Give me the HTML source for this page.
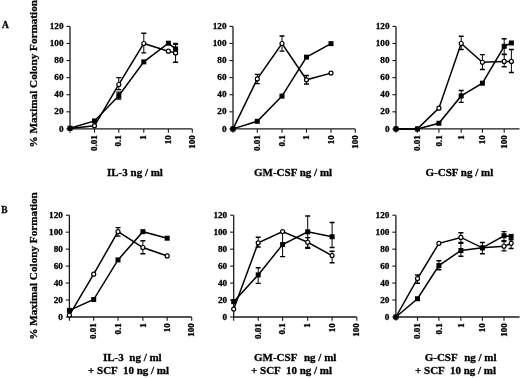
<!DOCTYPE html><html><head><meta charset="utf-8"><style>html,body{margin:0;padding:0;background:#fff;}svg{display:block;filter:grayscale(1) blur(0.25px)}text{font-family:"Liberation Serif", serif;font-weight:bold;fill:#000;stroke:#000;stroke-width:0.3px}</style></head><body>
<svg width="520" height="378" viewBox="0 0 520 378">
<line x1="70" y1="26.40" x2="70" y2="129.50" stroke="#1a1a1a" stroke-width="1.3"/>
<line x1="66.40" y1="128.90" x2="70" y2="128.90" stroke="#1a1a1a" stroke-width="1.1"/>
<text x="63.50" y="131.50" font-size="9.2" text-anchor="end">0</text>
<line x1="66.40" y1="111.82" x2="70" y2="111.82" stroke="#1a1a1a" stroke-width="1.1"/>
<text x="63.50" y="114.42" font-size="9.2" text-anchor="end">20</text>
<line x1="66.40" y1="94.73" x2="70" y2="94.73" stroke="#1a1a1a" stroke-width="1.1"/>
<text x="63.50" y="97.33" font-size="9.2" text-anchor="end">40</text>
<line x1="66.40" y1="77.65" x2="70" y2="77.65" stroke="#1a1a1a" stroke-width="1.1"/>
<text x="63.50" y="80.25" font-size="9.2" text-anchor="end">60</text>
<line x1="66.40" y1="60.56" x2="70" y2="60.56" stroke="#1a1a1a" stroke-width="1.1"/>
<text x="63.50" y="63.16" font-size="9.2" text-anchor="end">80</text>
<line x1="66.40" y1="43.48" x2="70" y2="43.48" stroke="#1a1a1a" stroke-width="1.1"/>
<text x="63.50" y="46.08" font-size="9.2" text-anchor="end">100</text>
<line x1="66.40" y1="26.40" x2="70" y2="26.40" stroke="#1a1a1a" stroke-width="1.1"/>
<text x="63.50" y="29.00" font-size="9.2" text-anchor="end">120</text>
<line x1="69.4" y1="128.9" x2="192.3" y2="128.9" stroke="#1a1a1a" stroke-width="1.3"/>
<line x1="70" y1="128.9" x2="70" y2="132.70" stroke="#1a1a1a" stroke-width="1.1"/>
<line x1="94.5" y1="128.9" x2="94.5" y2="132.70" stroke="#1a1a1a" stroke-width="1.1"/>
<text transform="translate(97.10,135.20) rotate(-90)" font-size="9" text-anchor="end">0.01</text>
<line x1="118.8" y1="128.9" x2="118.8" y2="132.70" stroke="#1a1a1a" stroke-width="1.1"/>
<text transform="translate(121.40,135.20) rotate(-90)" font-size="9" text-anchor="end">0.1</text>
<line x1="143.8" y1="128.9" x2="143.8" y2="132.70" stroke="#1a1a1a" stroke-width="1.1"/>
<text transform="translate(146.40,135.20) rotate(-90)" font-size="9" text-anchor="end">1</text>
<line x1="168.4" y1="128.9" x2="168.4" y2="132.70" stroke="#1a1a1a" stroke-width="1.1"/>
<text transform="translate(171.00,135.20) rotate(-90)" font-size="9" text-anchor="end">10</text>
<line x1="192.3" y1="128.9" x2="192.3" y2="132.70" stroke="#1a1a1a" stroke-width="1.1"/>
<text transform="translate(194.90,135.20) rotate(-90)" font-size="9" text-anchor="end">100</text>
<polyline points="70.00,128.22 94.50,120.96 118.80,95.67 143.80,61.85 168.40,43.22 175.59,48.95" fill="none" stroke="#000" stroke-width="1.5" stroke-linejoin="miter"/>
<polyline points="70.00,128.47 94.50,125.82 118.80,84.48 143.80,43.48 168.40,51.17 175.59,52.88" fill="none" stroke="#000" stroke-width="1.5" stroke-linejoin="miter"/>
<path d="M118.80,99.00V92.17" stroke="#000" stroke-width="1.0" fill="none"/><path d="M116.30,99.00H121.30M116.30,92.17H121.30" stroke="#000" stroke-width="1.4" fill="none"/>
<path d="M175.59,53.73V44.33" stroke="#000" stroke-width="1.0" fill="none"/><path d="M173.09,53.73H178.09M173.09,44.33H178.09" stroke="#000" stroke-width="1.4" fill="none"/>
<path d="M118.80,89.61V77.65" stroke="#000" stroke-width="1.0" fill="none"/><path d="M116.30,89.61H121.30M116.30,77.65H121.30" stroke="#000" stroke-width="1.4" fill="none"/>
<path d="M143.80,52.88V33.23" stroke="#000" stroke-width="1.0" fill="none"/><path d="M141.30,52.88H146.30M141.30,33.23H146.30" stroke="#000" stroke-width="1.4" fill="none"/>
<path d="M175.59,62.27V43.48" stroke="#000" stroke-width="1.0" fill="none"/><path d="M173.09,62.27H178.09M173.09,43.48H178.09" stroke="#000" stroke-width="1.4" fill="none"/>
<circle cx="70.00" cy="128.47" r="2.0" fill="#fff" stroke="#000" stroke-width="1.2"/>
<circle cx="94.50" cy="125.82" r="2.0" fill="#fff" stroke="#000" stroke-width="1.2"/>
<circle cx="118.80" cy="84.48" r="2.0" fill="#fff" stroke="#000" stroke-width="1.2"/>
<circle cx="143.80" cy="43.48" r="2.0" fill="#fff" stroke="#000" stroke-width="1.2"/>
<circle cx="168.40" cy="51.17" r="2.0" fill="#fff" stroke="#000" stroke-width="1.2"/>
<circle cx="175.59" cy="52.88" r="2.0" fill="#fff" stroke="#000" stroke-width="1.2"/>
<rect x="67.50" y="125.72" width="5" height="5" fill="#000"/>
<rect x="92.00" y="118.46" width="5" height="5" fill="#000"/>
<rect x="116.30" y="93.17" width="5" height="5" fill="#000"/>
<rect x="141.30" y="59.35" width="5" height="5" fill="#000"/>
<rect x="165.90" y="40.72" width="5" height="5" fill="#000"/>
<rect x="173.09" y="46.45" width="5" height="5" fill="#000"/>
<line x1="233" y1="26.40" x2="233" y2="129.50" stroke="#1a1a1a" stroke-width="1.3"/>
<line x1="229.40" y1="128.90" x2="233" y2="128.90" stroke="#1a1a1a" stroke-width="1.1"/>
<text x="226.50" y="131.50" font-size="9.2" text-anchor="end">0</text>
<line x1="229.40" y1="111.82" x2="233" y2="111.82" stroke="#1a1a1a" stroke-width="1.1"/>
<text x="226.50" y="114.42" font-size="9.2" text-anchor="end">20</text>
<line x1="229.40" y1="94.73" x2="233" y2="94.73" stroke="#1a1a1a" stroke-width="1.1"/>
<text x="226.50" y="97.33" font-size="9.2" text-anchor="end">40</text>
<line x1="229.40" y1="77.65" x2="233" y2="77.65" stroke="#1a1a1a" stroke-width="1.1"/>
<text x="226.50" y="80.25" font-size="9.2" text-anchor="end">60</text>
<line x1="229.40" y1="60.56" x2="233" y2="60.56" stroke="#1a1a1a" stroke-width="1.1"/>
<text x="226.50" y="63.16" font-size="9.2" text-anchor="end">80</text>
<line x1="229.40" y1="43.48" x2="233" y2="43.48" stroke="#1a1a1a" stroke-width="1.1"/>
<text x="226.50" y="46.08" font-size="9.2" text-anchor="end">100</text>
<line x1="229.40" y1="26.40" x2="233" y2="26.40" stroke="#1a1a1a" stroke-width="1.1"/>
<text x="226.50" y="29.00" font-size="9.2" text-anchor="end">120</text>
<line x1="232.4" y1="128.9" x2="355.3" y2="128.9" stroke="#1a1a1a" stroke-width="1.3"/>
<line x1="233" y1="128.9" x2="233" y2="132.70" stroke="#1a1a1a" stroke-width="1.1"/>
<line x1="257.3" y1="128.9" x2="257.3" y2="132.70" stroke="#1a1a1a" stroke-width="1.1"/>
<text transform="translate(259.90,135.20) rotate(-90)" font-size="9" text-anchor="end">0.01</text>
<line x1="282" y1="128.9" x2="282" y2="132.70" stroke="#1a1a1a" stroke-width="1.1"/>
<text transform="translate(284.60,135.20) rotate(-90)" font-size="9" text-anchor="end">0.1</text>
<line x1="306.5" y1="128.9" x2="306.5" y2="132.70" stroke="#1a1a1a" stroke-width="1.1"/>
<text transform="translate(309.10,135.20) rotate(-90)" font-size="9" text-anchor="end">1</text>
<line x1="331" y1="128.9" x2="331" y2="132.70" stroke="#1a1a1a" stroke-width="1.1"/>
<text transform="translate(333.60,135.20) rotate(-90)" font-size="9" text-anchor="end">10</text>
<line x1="355.3" y1="128.9" x2="355.3" y2="132.70" stroke="#1a1a1a" stroke-width="1.1"/>
<text transform="translate(357.90,135.20) rotate(-90)" font-size="9" text-anchor="end">100</text>
<polyline points="233.00,128.90 257.30,121.30 282.00,96.10 306.50,57.15 331.00,43.65" fill="none" stroke="#000" stroke-width="1.5" stroke-linejoin="miter"/>
<polyline points="233.00,128.90 257.30,78.93 282.00,43.48 306.50,79.78 331.00,73.12" fill="none" stroke="#000" stroke-width="1.5" stroke-linejoin="miter"/>
<path d="M257.30,83.63V74.40" stroke="#000" stroke-width="1.0" fill="none"/><path d="M254.80,83.63H259.80M254.80,74.40H259.80" stroke="#000" stroke-width="1.4" fill="none"/>
<path d="M282.00,51.17V36.05" stroke="#000" stroke-width="1.0" fill="none"/><path d="M279.50,51.17H284.50M279.50,36.05H284.50" stroke="#000" stroke-width="1.4" fill="none"/>
<path d="M306.50,84.05V75.51" stroke="#000" stroke-width="1.0" fill="none"/><path d="M304.00,84.05H309.00M304.00,75.51H309.00" stroke="#000" stroke-width="1.4" fill="none"/>
<circle cx="233.00" cy="128.90" r="2.0" fill="#fff" stroke="#000" stroke-width="1.2"/>
<circle cx="257.30" cy="78.93" r="2.0" fill="#fff" stroke="#000" stroke-width="1.2"/>
<circle cx="282.00" cy="43.48" r="2.0" fill="#fff" stroke="#000" stroke-width="1.2"/>
<circle cx="306.50" cy="79.78" r="2.0" fill="#fff" stroke="#000" stroke-width="1.2"/>
<circle cx="331.00" cy="73.12" r="2.0" fill="#fff" stroke="#000" stroke-width="1.2"/>
<rect x="230.50" y="126.40" width="5" height="5" fill="#000"/>
<rect x="254.80" y="118.80" width="5" height="5" fill="#000"/>
<rect x="279.50" y="93.60" width="5" height="5" fill="#000"/>
<rect x="304.00" y="54.65" width="5" height="5" fill="#000"/>
<rect x="328.50" y="41.15" width="5" height="5" fill="#000"/>
<line x1="396" y1="26.40" x2="396" y2="129.50" stroke="#1a1a1a" stroke-width="1.3"/>
<line x1="392.40" y1="128.90" x2="396" y2="128.90" stroke="#1a1a1a" stroke-width="1.1"/>
<text x="389.50" y="131.50" font-size="9.2" text-anchor="end">0</text>
<line x1="392.40" y1="111.82" x2="396" y2="111.82" stroke="#1a1a1a" stroke-width="1.1"/>
<text x="389.50" y="114.42" font-size="9.2" text-anchor="end">20</text>
<line x1="392.40" y1="94.73" x2="396" y2="94.73" stroke="#1a1a1a" stroke-width="1.1"/>
<text x="389.50" y="97.33" font-size="9.2" text-anchor="end">40</text>
<line x1="392.40" y1="77.65" x2="396" y2="77.65" stroke="#1a1a1a" stroke-width="1.1"/>
<text x="389.50" y="80.25" font-size="9.2" text-anchor="end">60</text>
<line x1="392.40" y1="60.56" x2="396" y2="60.56" stroke="#1a1a1a" stroke-width="1.1"/>
<text x="389.50" y="63.16" font-size="9.2" text-anchor="end">80</text>
<line x1="392.40" y1="43.48" x2="396" y2="43.48" stroke="#1a1a1a" stroke-width="1.1"/>
<text x="389.50" y="46.08" font-size="9.2" text-anchor="end">100</text>
<line x1="392.40" y1="26.40" x2="396" y2="26.40" stroke="#1a1a1a" stroke-width="1.1"/>
<text x="389.50" y="29.00" font-size="9.2" text-anchor="end">120</text>
<line x1="395.4" y1="128.9" x2="519.5" y2="128.9" stroke="#1a1a1a" stroke-width="1.3"/>
<line x1="396" y1="128.9" x2="396" y2="132.70" stroke="#1a1a1a" stroke-width="1.1"/>
<line x1="417.4" y1="128.9" x2="417.4" y2="132.70" stroke="#1a1a1a" stroke-width="1.1"/>
<text transform="translate(420.00,135.20) rotate(-90)" font-size="9" text-anchor="end">0.01</text>
<line x1="438.9" y1="128.9" x2="438.9" y2="132.70" stroke="#1a1a1a" stroke-width="1.1"/>
<text transform="translate(441.50,135.20) rotate(-90)" font-size="9" text-anchor="end">0.1</text>
<line x1="461.2" y1="128.9" x2="461.2" y2="132.70" stroke="#1a1a1a" stroke-width="1.1"/>
<text transform="translate(463.80,135.20) rotate(-90)" font-size="9" text-anchor="end">1</text>
<line x1="482.4" y1="128.9" x2="482.4" y2="132.70" stroke="#1a1a1a" stroke-width="1.1"/>
<text transform="translate(485.00,135.20) rotate(-90)" font-size="9" text-anchor="end">10</text>
<line x1="504.2" y1="128.9" x2="504.2" y2="132.70" stroke="#1a1a1a" stroke-width="1.1"/>
<text transform="translate(506.80,135.20) rotate(-90)" font-size="9" text-anchor="end">100</text>
<polyline points="396.00,128.90 417.40,128.90 438.90,123.26 461.20,95.93 482.40,83.20 504.20,46.30 511.39,42.97" fill="none" stroke="#000" stroke-width="1.5" stroke-linejoin="miter"/>
<polyline points="396.00,128.90 417.40,128.90 438.90,108.14 461.20,43.48 482.40,62.27 504.20,61.42 511.39,61.42" fill="none" stroke="#000" stroke-width="1.5" stroke-linejoin="miter"/>
<path d="M461.20,102.42V90.46" stroke="#000" stroke-width="1.0" fill="none"/><path d="M458.70,102.42H463.70M458.70,90.46H463.70" stroke="#000" stroke-width="1.4" fill="none"/>
<path d="M504.20,54.24V38.78" stroke="#000" stroke-width="1.0" fill="none"/><path d="M501.70,54.24H506.70M501.70,38.78H506.70" stroke="#000" stroke-width="1.4" fill="none"/>
<path d="M461.20,49.46V36.22" stroke="#000" stroke-width="1.0" fill="none"/><path d="M458.70,49.46H463.70M458.70,36.22H463.70" stroke="#000" stroke-width="1.4" fill="none"/>
<path d="M482.40,69.53V54.58" stroke="#000" stroke-width="1.0" fill="none"/><path d="M479.90,69.53H484.90M479.90,54.58H484.90" stroke="#000" stroke-width="1.4" fill="none"/>
<path d="M504.20,66.80V54.58" stroke="#000" stroke-width="1.0" fill="none"/><path d="M501.70,66.80H506.70M501.70,54.58H506.70" stroke="#000" stroke-width="1.4" fill="none"/>
<path d="M511.39,72.52V49.46" stroke="#000" stroke-width="1.0" fill="none"/><path d="M508.89,72.52H513.89M508.89,49.46H513.89" stroke="#000" stroke-width="1.4" fill="none"/>
<circle cx="396.00" cy="128.90" r="2.0" fill="#fff" stroke="#000" stroke-width="1.2"/>
<circle cx="417.40" cy="128.90" r="2.0" fill="#fff" stroke="#000" stroke-width="1.2"/>
<circle cx="438.90" cy="108.14" r="2.0" fill="#fff" stroke="#000" stroke-width="1.2"/>
<circle cx="461.20" cy="43.48" r="2.0" fill="#fff" stroke="#000" stroke-width="1.2"/>
<circle cx="482.40" cy="62.27" r="2.0" fill="#fff" stroke="#000" stroke-width="1.2"/>
<circle cx="504.20" cy="61.42" r="2.0" fill="#fff" stroke="#000" stroke-width="1.2"/>
<circle cx="511.39" cy="61.42" r="2.0" fill="#fff" stroke="#000" stroke-width="1.2"/>
<rect x="393.50" y="126.40" width="5" height="5" fill="#000"/>
<rect x="414.90" y="126.40" width="5" height="5" fill="#000"/>
<rect x="436.40" y="120.76" width="5" height="5" fill="#000"/>
<rect x="458.70" y="93.43" width="5" height="5" fill="#000"/>
<rect x="479.90" y="80.70" width="5" height="5" fill="#000"/>
<rect x="501.70" y="43.80" width="5" height="5" fill="#000"/>
<rect x="508.89" y="40.47" width="5" height="5" fill="#000"/>
<line x1="69.4" y1="215.20" x2="69.4" y2="317.60" stroke="#1a1a1a" stroke-width="1.3"/>
<line x1="65.80" y1="317.00" x2="69.4" y2="317.00" stroke="#1a1a1a" stroke-width="1.1"/>
<text x="62.90" y="319.60" font-size="9.2" text-anchor="end">0</text>
<line x1="65.80" y1="300.03" x2="69.4" y2="300.03" stroke="#1a1a1a" stroke-width="1.1"/>
<text x="62.90" y="302.63" font-size="9.2" text-anchor="end">20</text>
<line x1="65.80" y1="283.07" x2="69.4" y2="283.07" stroke="#1a1a1a" stroke-width="1.1"/>
<text x="62.90" y="285.67" font-size="9.2" text-anchor="end">40</text>
<line x1="65.80" y1="266.10" x2="69.4" y2="266.10" stroke="#1a1a1a" stroke-width="1.1"/>
<text x="62.90" y="268.70" font-size="9.2" text-anchor="end">60</text>
<line x1="65.80" y1="249.14" x2="69.4" y2="249.14" stroke="#1a1a1a" stroke-width="1.1"/>
<text x="62.90" y="251.74" font-size="9.2" text-anchor="end">80</text>
<line x1="65.80" y1="232.17" x2="69.4" y2="232.17" stroke="#1a1a1a" stroke-width="1.1"/>
<text x="62.90" y="234.77" font-size="9.2" text-anchor="end">100</text>
<line x1="65.80" y1="215.20" x2="69.4" y2="215.20" stroke="#1a1a1a" stroke-width="1.1"/>
<text x="62.90" y="217.80" font-size="9.2" text-anchor="end">120</text>
<line x1="68.80000000000001" y1="317.0" x2="191.7" y2="317.0" stroke="#1a1a1a" stroke-width="1.3"/>
<line x1="69.4" y1="317.0" x2="69.4" y2="320.80" stroke="#1a1a1a" stroke-width="1.1"/>
<line x1="93.7" y1="317.0" x2="93.7" y2="320.80" stroke="#1a1a1a" stroke-width="1.1"/>
<text transform="translate(96.30,323.30) rotate(-90)" font-size="9" text-anchor="end">0.01</text>
<line x1="118.0" y1="317.0" x2="118.0" y2="320.80" stroke="#1a1a1a" stroke-width="1.1"/>
<text transform="translate(120.60,323.30) rotate(-90)" font-size="9" text-anchor="end">0.1</text>
<line x1="142.9" y1="317.0" x2="142.9" y2="320.80" stroke="#1a1a1a" stroke-width="1.1"/>
<text transform="translate(145.50,323.30) rotate(-90)" font-size="9" text-anchor="end">1</text>
<line x1="167.2" y1="317.0" x2="167.2" y2="320.80" stroke="#1a1a1a" stroke-width="1.1"/>
<text transform="translate(169.80,323.30) rotate(-90)" font-size="9" text-anchor="end">10</text>
<line x1="191.7" y1="317.0" x2="191.7" y2="320.80" stroke="#1a1a1a" stroke-width="1.1"/>
<text transform="translate(194.30,323.30) rotate(-90)" font-size="9" text-anchor="end">100</text>
<polyline points="69.40,310.38 93.70,299.53 118.00,259.91 142.90,231.66 167.20,238.19" fill="none" stroke="#000" stroke-width="1.5" stroke-linejoin="miter"/>
<polyline points="69.40,315.13 93.70,274.16 118.00,231.66 142.90,247.52 167.20,255.92" fill="none" stroke="#000" stroke-width="1.5" stroke-linejoin="miter"/>
<path d="M118.00,236.16V227.67" stroke="#000" stroke-width="1.0" fill="none"/><path d="M115.50,236.16H120.50M115.50,227.67H120.50" stroke="#000" stroke-width="1.4" fill="none"/>
<path d="M142.90,253.80V240.74" stroke="#000" stroke-width="1.0" fill="none"/><path d="M140.40,253.80H145.40M140.40,240.74H145.40" stroke="#000" stroke-width="1.4" fill="none"/>
<circle cx="69.40" cy="315.13" r="2.0" fill="#fff" stroke="#000" stroke-width="1.2"/>
<circle cx="93.70" cy="274.16" r="2.0" fill="#fff" stroke="#000" stroke-width="1.2"/>
<circle cx="118.00" cy="231.66" r="2.0" fill="#fff" stroke="#000" stroke-width="1.2"/>
<circle cx="142.90" cy="247.52" r="2.0" fill="#fff" stroke="#000" stroke-width="1.2"/>
<circle cx="167.20" cy="255.92" r="2.0" fill="#fff" stroke="#000" stroke-width="1.2"/>
<rect x="66.90" y="307.88" width="5" height="5" fill="#000"/>
<rect x="91.20" y="297.03" width="5" height="5" fill="#000"/>
<rect x="115.50" y="257.41" width="5" height="5" fill="#000"/>
<rect x="140.40" y="229.16" width="5" height="5" fill="#000"/>
<rect x="164.70" y="235.69" width="5" height="5" fill="#000"/>
<line x1="233.7" y1="215.20" x2="233.7" y2="317.60" stroke="#1a1a1a" stroke-width="1.3"/>
<line x1="230.10" y1="317.00" x2="233.7" y2="317.00" stroke="#1a1a1a" stroke-width="1.1"/>
<text x="227.20" y="319.60" font-size="9.2" text-anchor="end">0</text>
<line x1="230.10" y1="300.03" x2="233.7" y2="300.03" stroke="#1a1a1a" stroke-width="1.1"/>
<text x="227.20" y="302.63" font-size="9.2" text-anchor="end">20</text>
<line x1="230.10" y1="283.07" x2="233.7" y2="283.07" stroke="#1a1a1a" stroke-width="1.1"/>
<text x="227.20" y="285.67" font-size="9.2" text-anchor="end">40</text>
<line x1="230.10" y1="266.10" x2="233.7" y2="266.10" stroke="#1a1a1a" stroke-width="1.1"/>
<text x="227.20" y="268.70" font-size="9.2" text-anchor="end">60</text>
<line x1="230.10" y1="249.14" x2="233.7" y2="249.14" stroke="#1a1a1a" stroke-width="1.1"/>
<text x="227.20" y="251.74" font-size="9.2" text-anchor="end">80</text>
<line x1="230.10" y1="232.17" x2="233.7" y2="232.17" stroke="#1a1a1a" stroke-width="1.1"/>
<text x="227.20" y="234.77" font-size="9.2" text-anchor="end">100</text>
<line x1="230.10" y1="215.20" x2="233.7" y2="215.20" stroke="#1a1a1a" stroke-width="1.1"/>
<text x="227.20" y="217.80" font-size="9.2" text-anchor="end">120</text>
<line x1="233.1" y1="317.0" x2="356.8" y2="317.0" stroke="#1a1a1a" stroke-width="1.3"/>
<line x1="233.7" y1="317.0" x2="233.7" y2="320.80" stroke="#1a1a1a" stroke-width="1.1"/>
<line x1="258.2" y1="317.0" x2="258.2" y2="320.80" stroke="#1a1a1a" stroke-width="1.1"/>
<text transform="translate(260.80,323.30) rotate(-90)" font-size="9" text-anchor="end">0.01</text>
<line x1="282.6" y1="317.0" x2="282.6" y2="320.80" stroke="#1a1a1a" stroke-width="1.1"/>
<text transform="translate(285.20,323.30) rotate(-90)" font-size="9" text-anchor="end">0.1</text>
<line x1="307.7" y1="317.0" x2="307.7" y2="320.80" stroke="#1a1a1a" stroke-width="1.1"/>
<text transform="translate(310.30,323.30) rotate(-90)" font-size="9" text-anchor="end">1</text>
<line x1="332.1" y1="317.0" x2="332.1" y2="320.80" stroke="#1a1a1a" stroke-width="1.1"/>
<text transform="translate(334.70,323.30) rotate(-90)" font-size="9" text-anchor="end">10</text>
<line x1="356.8" y1="317.0" x2="356.8" y2="320.80" stroke="#1a1a1a" stroke-width="1.1"/>
<text transform="translate(359.40,323.30) rotate(-90)" font-size="9" text-anchor="end">100</text>
<polyline points="233.70,301.65 258.20,274.92 282.60,244.56 307.70,231.83 332.10,236.75" fill="none" stroke="#000" stroke-width="1.5" stroke-linejoin="miter"/>
<polyline points="233.70,309.11 258.20,242.86 282.60,231.58 307.70,242.26 332.10,255.58" fill="none" stroke="#000" stroke-width="1.5" stroke-linejoin="miter"/>
<path d="M258.20,283.41V267.80" stroke="#000" stroke-width="1.0" fill="none"/><path d="M255.70,283.41H260.70M255.70,267.80H260.70" stroke="#000" stroke-width="1.4" fill="none"/>
<path d="M282.60,256.60V232.17" stroke="#000" stroke-width="1.0" fill="none"/><path d="M280.10,256.60H285.10M280.10,232.17H285.10" stroke="#000" stroke-width="1.4" fill="none"/>
<path d="M307.70,247.44V216.05" stroke="#000" stroke-width="1.0" fill="none"/><path d="M305.20,247.44H310.20M305.20,216.05H310.20" stroke="#000" stroke-width="1.4" fill="none"/>
<path d="M332.10,247.44V222.50" stroke="#000" stroke-width="1.0" fill="none"/><path d="M329.60,247.44H334.60M329.60,222.50H334.60" stroke="#000" stroke-width="1.4" fill="none"/>
<path d="M258.20,247.02V237.26" stroke="#000" stroke-width="1.0" fill="none"/><path d="M255.70,247.02H260.70M255.70,237.26H260.70" stroke="#000" stroke-width="1.4" fill="none"/>
<path d="M307.70,248.29V237.60" stroke="#000" stroke-width="1.0" fill="none"/><path d="M305.20,248.29H310.20M305.20,237.60H310.20" stroke="#000" stroke-width="1.4" fill="none"/>
<path d="M332.10,262.79V251.26" stroke="#000" stroke-width="1.0" fill="none"/><path d="M329.60,262.79H334.60M329.60,251.26H334.60" stroke="#000" stroke-width="1.4" fill="none"/>
<circle cx="233.70" cy="309.11" r="2.0" fill="#fff" stroke="#000" stroke-width="1.2"/>
<circle cx="258.20" cy="242.86" r="2.0" fill="#fff" stroke="#000" stroke-width="1.2"/>
<circle cx="282.60" cy="231.58" r="2.0" fill="#fff" stroke="#000" stroke-width="1.2"/>
<circle cx="307.70" cy="242.26" r="2.0" fill="#fff" stroke="#000" stroke-width="1.2"/>
<circle cx="332.10" cy="255.58" r="2.0" fill="#fff" stroke="#000" stroke-width="1.2"/>
<rect x="231.20" y="299.15" width="5" height="5" fill="#000"/>
<rect x="255.70" y="272.42" width="5" height="5" fill="#000"/>
<rect x="280.10" y="242.06" width="5" height="5" fill="#000"/>
<rect x="305.20" y="229.33" width="5" height="5" fill="#000"/>
<rect x="329.60" y="234.25" width="5" height="5" fill="#000"/>
<line x1="395.9" y1="215.20" x2="395.9" y2="317.60" stroke="#1a1a1a" stroke-width="1.3"/>
<line x1="392.30" y1="317.00" x2="395.9" y2="317.00" stroke="#1a1a1a" stroke-width="1.1"/>
<text x="389.40" y="319.60" font-size="9.2" text-anchor="end">0</text>
<line x1="392.30" y1="300.03" x2="395.9" y2="300.03" stroke="#1a1a1a" stroke-width="1.1"/>
<text x="389.40" y="302.63" font-size="9.2" text-anchor="end">20</text>
<line x1="392.30" y1="283.07" x2="395.9" y2="283.07" stroke="#1a1a1a" stroke-width="1.1"/>
<text x="389.40" y="285.67" font-size="9.2" text-anchor="end">40</text>
<line x1="392.30" y1="266.10" x2="395.9" y2="266.10" stroke="#1a1a1a" stroke-width="1.1"/>
<text x="389.40" y="268.70" font-size="9.2" text-anchor="end">60</text>
<line x1="392.30" y1="249.14" x2="395.9" y2="249.14" stroke="#1a1a1a" stroke-width="1.1"/>
<text x="389.40" y="251.74" font-size="9.2" text-anchor="end">80</text>
<line x1="392.30" y1="232.17" x2="395.9" y2="232.17" stroke="#1a1a1a" stroke-width="1.1"/>
<text x="389.40" y="234.77" font-size="9.2" text-anchor="end">100</text>
<line x1="392.30" y1="215.20" x2="395.9" y2="215.20" stroke="#1a1a1a" stroke-width="1.1"/>
<text x="389.40" y="217.80" font-size="9.2" text-anchor="end">120</text>
<line x1="395.29999999999995" y1="317.0" x2="519.5" y2="317.0" stroke="#1a1a1a" stroke-width="1.3"/>
<line x1="395.9" y1="317.0" x2="395.9" y2="320.80" stroke="#1a1a1a" stroke-width="1.1"/>
<line x1="417.5" y1="317.0" x2="417.5" y2="320.80" stroke="#1a1a1a" stroke-width="1.1"/>
<text transform="translate(420.10,323.30) rotate(-90)" font-size="9" text-anchor="end">0.01</text>
<line x1="438.9" y1="317.0" x2="438.9" y2="320.80" stroke="#1a1a1a" stroke-width="1.1"/>
<text transform="translate(441.50,323.30) rotate(-90)" font-size="9" text-anchor="end">0.1</text>
<line x1="460.9" y1="317.0" x2="460.9" y2="320.80" stroke="#1a1a1a" stroke-width="1.1"/>
<text transform="translate(463.50,323.30) rotate(-90)" font-size="9" text-anchor="end">1</text>
<line x1="482.4" y1="317.0" x2="482.4" y2="320.80" stroke="#1a1a1a" stroke-width="1.1"/>
<text transform="translate(485.00,323.30) rotate(-90)" font-size="9" text-anchor="end">10</text>
<line x1="504.0" y1="317.0" x2="504.0" y2="320.80" stroke="#1a1a1a" stroke-width="1.1"/>
<text transform="translate(506.60,323.30) rotate(-90)" font-size="9" text-anchor="end">100</text>
<polyline points="395.90,317.00 417.50,298.76 438.90,265.59 460.90,250.49 482.40,247.86 504.00,235.73 511.13,236.41" fill="none" stroke="#000" stroke-width="1.5" stroke-linejoin="miter"/>
<polyline points="395.90,317.00 417.50,278.57 438.90,243.37 460.90,237.43 482.40,247.86 504.00,246.25 511.13,243.37" fill="none" stroke="#000" stroke-width="1.5" stroke-linejoin="miter"/>
<path d="M438.90,269.75V260.76" stroke="#000" stroke-width="1.0" fill="none"/><path d="M436.40,269.75H441.40M436.40,260.76H441.40" stroke="#000" stroke-width="1.4" fill="none"/>
<path d="M460.90,256.26V243.37" stroke="#000" stroke-width="1.0" fill="none"/><path d="M458.40,256.26H463.40M458.40,243.37H463.40" stroke="#000" stroke-width="1.4" fill="none"/>
<path d="M504.00,240.65V231.66" stroke="#000" stroke-width="1.0" fill="none"/><path d="M501.50,240.65H506.50M501.50,231.66H506.50" stroke="#000" stroke-width="1.4" fill="none"/>
<path d="M417.50,283.32V275.01" stroke="#000" stroke-width="1.0" fill="none"/><path d="M415.00,283.32H420.00M415.00,275.01H420.00" stroke="#000" stroke-width="1.4" fill="none"/>
<path d="M460.90,242.35V232.68" stroke="#000" stroke-width="1.0" fill="none"/><path d="M458.40,242.35H463.40M458.40,232.68H463.40" stroke="#000" stroke-width="1.4" fill="none"/>
<path d="M482.40,253.80V242.43" stroke="#000" stroke-width="1.0" fill="none"/><path d="M479.90,253.80H484.90M479.90,242.43H484.90" stroke="#000" stroke-width="1.4" fill="none"/>
<path d="M504.00,250.92V241.50" stroke="#000" stroke-width="1.0" fill="none"/><path d="M501.50,250.92H506.50M501.50,241.50H506.50" stroke="#000" stroke-width="1.4" fill="none"/>
<path d="M511.13,248.54V239.80" stroke="#000" stroke-width="1.0" fill="none"/><path d="M508.63,248.54H513.63M508.63,239.80H513.63" stroke="#000" stroke-width="1.4" fill="none"/>
<circle cx="395.90" cy="317.00" r="2.0" fill="#fff" stroke="#000" stroke-width="1.2"/>
<circle cx="417.50" cy="278.57" r="2.0" fill="#fff" stroke="#000" stroke-width="1.2"/>
<circle cx="438.90" cy="243.37" r="2.0" fill="#fff" stroke="#000" stroke-width="1.2"/>
<circle cx="460.90" cy="237.43" r="2.0" fill="#fff" stroke="#000" stroke-width="1.2"/>
<circle cx="482.40" cy="247.86" r="2.0" fill="#fff" stroke="#000" stroke-width="1.2"/>
<circle cx="504.00" cy="246.25" r="2.0" fill="#fff" stroke="#000" stroke-width="1.2"/>
<circle cx="511.13" cy="243.37" r="2.0" fill="#fff" stroke="#000" stroke-width="1.2"/>
<rect x="393.40" y="314.50" width="5" height="5" fill="#000"/>
<rect x="415.00" y="296.26" width="5" height="5" fill="#000"/>
<rect x="436.40" y="263.09" width="5" height="5" fill="#000"/>
<rect x="458.40" y="247.99" width="5" height="5" fill="#000"/>
<rect x="479.90" y="245.36" width="5" height="5" fill="#000"/>
<rect x="501.50" y="233.23" width="5" height="5" fill="#000"/>
<rect x="508.63" y="233.91" width="5" height="5" fill="#000"/>
<text transform="translate(36.5,147.6) rotate(-90)" font-size="11.2">% Maximal Colony Formation</text>
<text transform="translate(36.5,339.79999999999995) rotate(-90)" font-size="11.2">% Maximal Colony Formation</text>
<text transform="translate(2.0,27.9) scale(0.86,1)" font-size="11">A</text>
<text transform="translate(1.3,213.3) scale(0.86,1)" font-size="11">B</text>
<text x="107" y="175.9" font-size="11">IL-3 ng / ml</text>
<text x="254" y="175.9" font-size="11">GM-CSF ng / ml</text>
<text x="425.5" y="175.9" font-size="11">G-CSF ng / ml</text>
<text x="103" y="361.0" font-size="11" style="white-space:pre">IL-3  ng / ml</text>
<text x="88" y="374.4" font-size="11" style="white-space:pre">+ SCF  10 ng / ml</text>
<text x="254" y="361.0" font-size="11">GM-CSF<tspan x="304.0">ng / ml</tspan></text>
<text x="251" y="374.4" font-size="11" style="white-space:pre">+ SCF  10 ng / ml</text>
<text x="424.7" y="361.0" font-size="11">G-CSF<tspan x="464.2">ng / ml</tspan></text>
<text x="415" y="374.4" font-size="11" style="white-space:pre">+ SCF  10 ng / ml</text>
</svg></body></html>
